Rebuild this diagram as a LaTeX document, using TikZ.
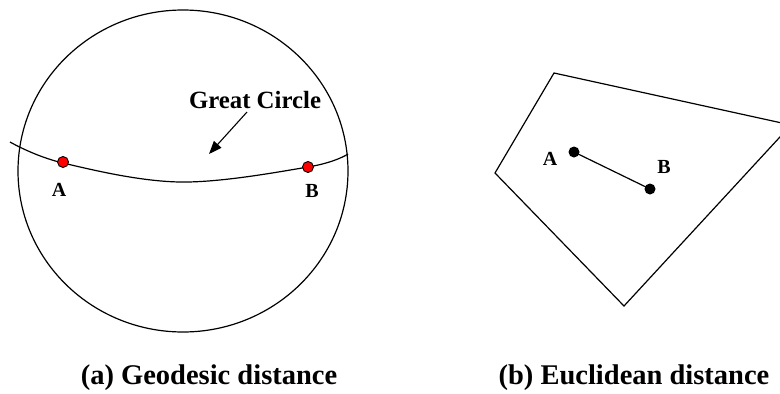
\documentclass[tikz,border=0pt]{standalone}
\usepackage{fontspec}
\setmainfont{Liberation Serif}
\usetikzlibrary{arrows.meta}
\begin{document}
\begin{tikzpicture}[x=1pt,y=-1pt,
  line width=1.2pt,
  lbl/.style={font=\bfseries\fontsize{20}{22}\selectfont, inner sep=0pt},
  captext/.style={font=\bfseries\fontsize{28.5}{30}\selectfont, inner sep=0pt},
  reddot/.style={circle, draw=black, line width=0.9pt, fill=red, minimum size=11pt, inner sep=0pt},
  blackdot/.style={circle, fill=black, minimum size=11pt, inner sep=0pt}]
\useasboundingbox (0,0) rectangle (780,394);
\clip (0,0) rectangle (780,394);
% (a) sphere
\draw (183,171) ellipse [x radius=165, y radius=161];
\draw plot[smooth, tension=0.6] coordinates {(10,142) (63,163) (180,182) (308,167) (348,154)};
\node[reddot] (A1) at (63,162) {};
\node[reddot] (B1) at (308,167) {};
\node[lbl] (la) at (59,190) {A};
\node[lbl] (lb) at (312,191) {B};
\node[font=\bfseries\fontsize{24.8}{26}\selectfont, inner sep=0pt] (gc) at (255,100) {Great Circle};
\coordinate (gcp) at (209,154);
\draw[-{Triangle[length=13pt,width=10pt]}, line width=1.1pt] (247,112) -- (gcp);
\node[captext] (ca) at (209,378) {(a) Geodesic distance};
% (b) plane
\coordinate (p1) at (554,73);
\coordinate (p2) at (791,125);
\coordinate (p3) at (624,306);
\coordinate (p4) at (495,173);
\draw (p1) -- (p2) -- (p3) -- (p4) -- cycle;
\node[blackdot] (A2) at (574,152) {};
\node[blackdot] (B2) at (650,189) {};
\draw (A2.center) -- (B2.center);
\node[lbl] (la2) at (550,159) {A};
\node[lbl] (lb2) at (664,167) {B};
\node[captext] (cb) at (634,378) {(b) Euclidean distance};
\end{tikzpicture}
\end{document}
